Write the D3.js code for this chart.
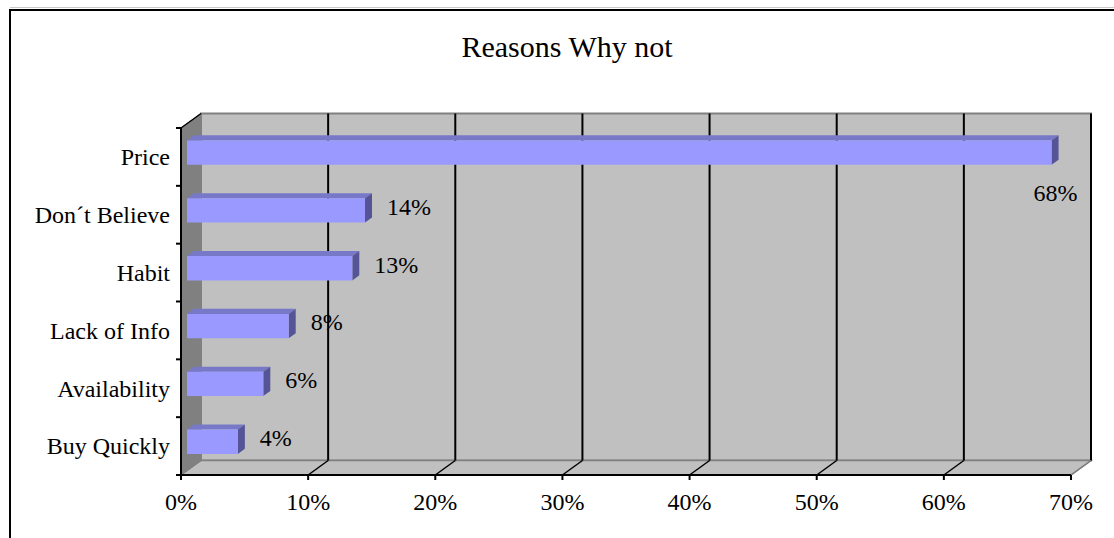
<!DOCTYPE html>
<html lang="en">
<head>
  <meta charset="UTF-8">
  <title>Reasons Why not</title>
  <script src="https://d3js.org/d3.v7.min.js"></script>
  <style>
    body { margin: 0; background: #fff; }
    text { font-family: "Liberation Serif", "Times New Roman", serif; fill: #000; }
    .title { font-size: 30px; text-anchor: middle; }
    .cat { font-size: 24px; text-anchor: end; }
    .tick { font-size: 24px; text-anchor: middle; }
    .val { font-size: 24px; }
  </style>
</head>
<body>
  <div id="chart"></div>
  <script>
    // data
    const categories = ["Price", "Don\u00b4t Believe", "Habit", "Lack of Info", "Availability", "Buy Quickly"];
    const values = [0.68, 0.14, 0.13, 0.08, 0.06, 0.04];
    const tickValues = [0, 0.1, 0.2, 0.3, 0.4, 0.5, 0.6, 0.7];

    const width = 1114, height = 538;

    const svg = d3.select("#chart")
                  .append("svg")
                  .attr("width", width)
                  .attr("height", height);

    // front plane of the 3D plot
    const pLeft = 181, pRight = 1071, pTop = 128, pBottom = 475;
    // depth offset of the back wall
    const DX = 20, DY = 14.5;
    const P = (x, y, z) => [x + z * DX, y - z * DY];

    const x = d3.scaleLinear().domain([0, 0.7]).range([pLeft, pRight]);
    const y = d3.scaleBand().domain(categories).range([pTop, pBottom])
                .paddingInner(0.58).paddingOuter(0.29);
    const yb = d3.scaleBand().domain(categories).range([pTop, pBottom]);

    const line = d3.line();

    // outer frame
    svg.append("line").attr("x1", 10).attr("x2", width).attr("y1", 7.5).attr("y2", 7.5)
       .attr("stroke", "#c8c8c8").attr("stroke-width", 1);
    svg.append("path").attr("d", line([[10, height], [10, 10], [width, 10]]))
       .attr("fill", "none").attr("stroke", "#000").attr("stroke-width", 2);

    // title
    svg.append("text").attr("class", "title").attr("x", 567).attr("y", 57).text("Reasons Why not");

    // back wall
    svg.append("path")
       .attr("d", line([P(pLeft, pTop, 1), P(pRight, pTop, 1), P(pRight, pBottom, 1), P(pLeft, pBottom, 1)]) + "Z")
       .attr("fill", "#c0c0c0").attr("stroke", "#808080").attr("stroke-width", 2);

    // floor
    svg.append("path")
       .attr("d", line([P(pLeft, pBottom, 0), P(pRight, pBottom, 0), P(pRight, pBottom, 1), P(pLeft, pBottom, 1)]) + "Z")
       .attr("fill", "#c0c0c0").attr("stroke", "#808080").attr("stroke-width", 1.5);

    // side wall
    svg.append("path")
       .attr("d", line([P(pLeft, pTop, 0), P(pLeft, pTop, 1), P(pLeft, pBottom, 1), P(pLeft, pBottom, 0)]) + "Z")
       .attr("fill", "#808080").attr("stroke", "#808080");

    // gridlines on back wall and floor
    tickValues.filter(t => t > 0).forEach(t => {
      const xf = x(t);
      svg.append("path")
         .attr("d", line([P(xf, pTop, 1), P(xf, pBottom, 1)]))
         .attr("stroke", "#000").attr("stroke-width", 2).attr("fill", "none");
      svg.append("path")
         .attr("d", line([P(xf, pBottom, 1), P(xf, pBottom, 0)]))
         .attr("stroke", t === 0.7 ? "#808080" : "#000").attr("stroke-width", 1.5).attr("fill", "none");
    });

    // bars: front face at depth 0.3, back at 0.65
    const z0 = 0.3, z1 = 0.65;
    const bars = svg.selectAll(".bar")
                    .data(categories.map((c, i) => ({ cat: c, v: values[i] })))
                    .enter().append("g").attr("class", "bar");

    bars.append("path") // top face
        .attr("d", d => line([P(x(0), y(d.cat), z0), P(x(d.v), y(d.cat), z0),
                              P(x(d.v), y(d.cat), z1), P(x(0), y(d.cat), z1)]) + "Z")
        .attr("fill", "#7878c8");
    bars.append("path") // right side
        .attr("d", d => line([P(x(d.v), y(d.cat), z0), P(x(d.v), y(d.cat), z1),
                              P(x(d.v), y(d.cat) + y.bandwidth(), z1), P(x(d.v), y(d.cat) + y.bandwidth(), z0)]) + "Z")
        .attr("fill", "#545496");
    bars.append("path") // front face
        .attr("d", d => line([P(x(0), y(d.cat), z0), P(x(d.v), y(d.cat), z0),
                              P(x(d.v), y(d.cat) + y.bandwidth(), z0), P(x(0), y(d.cat) + y.bandwidth(), z0)]) + "Z")
        .attr("fill", "#9999ff");

    // value labels
    const fmt = d3.format(".0%");
    bars.append("text")
        .attr("class", "val")
        .each(function (d) {
          const [ex] = P(x(d.v), y(d.cat), z1);
          const [fx, fy] = P(x(d.v), y(d.cat) + y.bandwidth(), z0);
          const t = d3.select(this).text(fmt(d.v));
          if (ex + 15 + 45 > P(pRight, pTop, 1)[0]) {
            t.attr("x", fx + 4).attr("y", fy + 36).attr("text-anchor", "middle");
          } else {
            const cy = P(0, y(d.cat) + y.bandwidth() / 2, z0)[1];
            t.attr("x", ex + 15).attr("y", cy - 4).attr("dy", "0.35em").attr("text-anchor", "start");
          }
        });

    // axes
    svg.append("path").attr("d", line([P(pLeft, pTop, 0), P(pLeft, pTop, 1)]))
       .attr("stroke", "#000").attr("stroke-width", 1.5);
    svg.append("path").attr("d", line([[pLeft, pTop], [pLeft, pBottom], [pRight, pBottom]]))
       .attr("fill", "none").attr("stroke", "#000").attr("stroke-width", 2);

    // category ticks at band boundaries
    categories.forEach(c => {
      svg.append("line").attr("x1", pLeft - 5).attr("x2", pLeft)
         .attr("y1", yb(c)).attr("y2", yb(c)).attr("stroke", "#000").attr("stroke-width", 2);
    });
    svg.append("line").attr("x1", pLeft - 5).attr("x2", pLeft)
       .attr("y1", pBottom).attr("y2", pBottom).attr("stroke", "#000").attr("stroke-width", 2);

    svg.selectAll(".cat").data(categories).enter().append("text")
       .attr("class", "cat")
       .attr("x", pLeft - 11)
       .attr("y", d => yb(d) + yb.bandwidth() / 2)
       .attr("dy", "0.35em")
       .text(d => d);

    // value axis ticks
    svg.selectAll(".xt").data(tickValues).enter().append("line")
       .attr("x1", d => x(d)).attr("x2", d => x(d))
       .attr("y1", pBottom).attr("y2", pBottom + 5)
       .attr("stroke", "#000").attr("stroke-width", 2);
    svg.selectAll(".tick").data(tickValues).enter().append("text")
       .attr("class", "tick")
       .attr("x", d => x(d))
       .attr("y", 510)
       .text(d => fmt(d));
  </script>
</body>
</html>
